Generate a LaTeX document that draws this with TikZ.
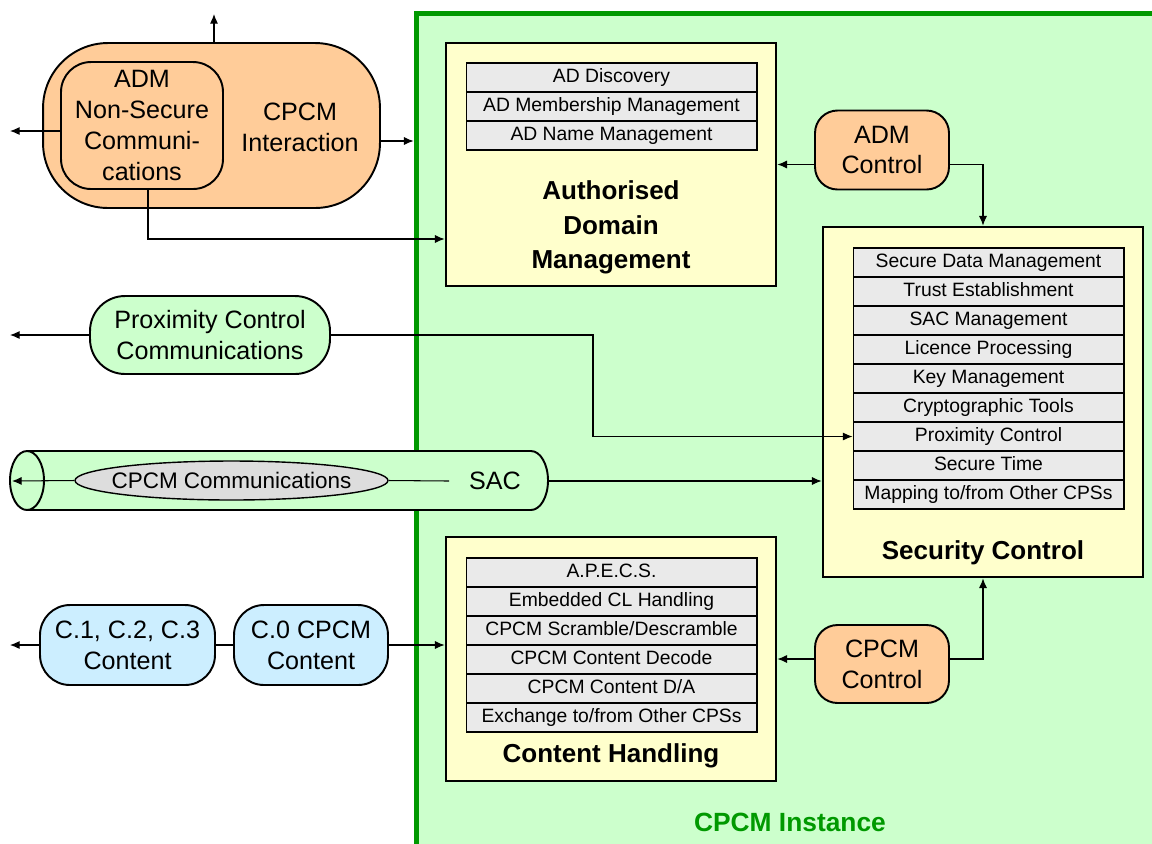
\documentclass[tikz,border=0pt]{standalone}
\usepackage{fontspec}
\setmainfont{Liberation Sans}
\usetikzlibrary{shapes.geometric, arrows.meta}
\definecolor{instgreen}{HTML}{CCFFCC}
\definecolor{instline}{HTML}{009900}
\definecolor{boxyellow}{HTML}{FFFFCC}
\definecolor{rowgray}{HTML}{EAEAEA}
\definecolor{admorange}{HTML}{FFCC99}
\definecolor{contblue}{HTML}{CCEEFF}
\definecolor{commgray}{HTML}{DDDDDD}
\begin{document}
\begin{tikzpicture}[>={Latex[length=5.5pt, width=4.6pt]}, x=0.02cm, y=-0.02cm,
    mainbox/.style={draw, line width=1.6pt, fill=boxyellow, minimum width=6.6cm, inner sep=0pt},
    row/.style={draw, line width=0.6pt, fill=rowgray, minimum width=5.82cm, minimum height=0.58cm,
        inner sep=0pt, text height=8pt, text depth=2.4pt, font=\fontsize{11}{13}\selectfont},
    blob/.style={draw, line width=1.1pt, align=center, inner sep=0pt, font=\fontsize{14.3}{17.6}\selectfont},
    title/.style={align=center, font=\bfseries\fontsize{14.8}{19.8}\selectfont},
    link/.style={->, line width=0.6pt}]
\useasboundingbox (0,0) rectangle (1152,843);
\clip (0,0) rectangle (1152,843);

% CPCM instance
\node[draw=instline, fill=instgreen, line width=2.8pt, minimum width=15.08cm, minimum height=16.94cm] (inst) at (793,436.5) {};
\node[text=instline, font=\bfseries\fontsize{15}{18}\selectfont] (instlbl) at (790,822) {CPCM Instance};

% authorised domain management
\node[mainbox, minimum height=4.86cm] (adm) at (611,164.5) {};
\foreach \t [count=\i] in {AD Discovery, AD Membership Management, AD Name Management}
    \node[row] (ad\i) at (611.5,{48.5+29*\i}) {\t};
\node[title] (admt) at (611,227.5) {Authorised\\Domain\\Management};

% security control
\node[mainbox, minimum width=6.4cm, minimum height=7cm] (sec) at (983,402) {};
\foreach \t [count=\i] in {Secure Data Management, Trust Establishment, SAC Management, Licence Processing,
    Key Management, Cryptographic Tools, Proximity Control, Secure Time, Mapping to/from Other CPSs}
    \node[row, minimum width=5.42cm] (sc\i) at (988.5,{233.5+29*\i}) {\t};
\node[title] (sect) at (983,553) {Security Control};

% content handling
\node[mainbox, minimum height=4.88cm] (ch) at (611,659) {};
\foreach \t [count=\i] in {A.P.E.C.S., Embedded CL Handling, CPCM Scramble/Descramble, CPCM Content Decode,
    CPCM Content D/A, Exchange to/from Other CPSs}
    \node[row] (cr\i) at (611.5,{543.5+29*\i}) {\t};
\node[title] (cht) at (611,756) {Content Handling};

% controls
\node[blob, fill=admorange, minimum width=2.68cm, minimum height=1.58cm, rounded corners=0.45cm] (admctl) at (882,150) {ADM\\Control};
\node[blob, fill=admorange, minimum width=2.68cm, minimum height=1.56cm, rounded corners=0.45cm] (cpctl) at (882,664) {CPCM\\Control};

% interaction
\node[blob, fill=admorange, minimum width=6.74cm, minimum height=3.3cm, rounded corners=1.3cm] (cpi) at (211.5,125.5) {};
\node[blob, fill=admorange, minimum width=3.24cm, minimum height=2.54cm, rounded corners=0.6cm] (ns) at (142,125.5) {ADM\\Non-Secure\\Communi-\\cations};
\node[align=center, font=\fontsize{14.3}{17.6}\selectfont] (cpit) at (300,127.5) {CPCM\\Interaction};

% proximity
\node[blob, fill=instgreen, minimum width=4.8cm, minimum height=1.56cm, rounded corners=0.7cm] (prox) at (210,335) {Proximity Control\\Communications};

% SAC pipe
\draw[line width=1.1pt, fill=instgreen] (27,451) -- (531,451) arc[start angle=90, end angle=-90, x radius=0.34cm, y radius=0.59cm] -- (27,510);
\draw[line width=1.1pt, fill=instgreen] (27,480.5) ellipse[x radius=0.34cm, y radius=0.59cm];
\node[ellipse, draw, line width=0.8pt, fill=commgray, minimum width=6.26cm, minimum height=0.78cm, inner xsep=-0.2cm, inner ysep=0pt,
    font=\fontsize{12.8}{15}\selectfont] (comm) at (231.5,480.5) {CPCM Communications};
\node[font=\fontsize{14.3}{17.6}\selectfont] (sac) at (495,481) {SAC};

% content
\node[blob, fill=contblue, minimum width=3.5cm, minimum height=1.6cm, rounded corners=0.6cm] (c123) at (127.5,645) {C.1, C.2, C.3\\Content};
\node[blob, fill=contblue, minimum width=3.08cm, minimum height=1.6cm, rounded corners=0.6cm] (c0) at (311,645) {C.0 CPCM\\Content};

% links
\coordinate (up) at (214,14);
\coordinate (nsout) at (10,131);
\coordinate (proxout) at (10,335);
\coordinate (pipeout) at (12,481);
\coordinate (sacl) at (449,481);
\coordinate (pipeend) at (548,481);
\coordinate (cout) at (10,645);
\draw[link] (up |- cpi.north) -- (up);
\draw[link] (ns.west |- nsout) -- (nsout);
\draw[link] (cpi.east |- 0,141) -- (inst.west |- 0,141);
\draw[link] (ns.south -| 148,0) |- (adm.west |- 0,239);
\draw[link] (admctl.west |- adm.east) -- (adm.east);
\draw[link] (admctl.east |- adm.east) -| (sec.north);
\draw[link] (cpctl.west |- ch.east) -- (ch.east);
\draw[link] (cpctl.east |- ch.east) -| (sec.south);
\draw[link] (prox.west) -- (proxout);
\draw[link] (prox.east) -- (prox.east -| 593,0) |- (sc7.west);
\draw[link] (comm.west) -- (pipeout);
\draw[line width=0.6pt] (comm.east) -- (sacl);
\draw[link] (pipeend) -- (sec.west |- pipeend);
\draw[line width=0.6pt] (c123) -- (c0);
\draw[link] (c123.west) -- (cout);
\draw[link] (c0.east) -- (ch.west |- c0.east);
\end{tikzpicture}
\end{document}
